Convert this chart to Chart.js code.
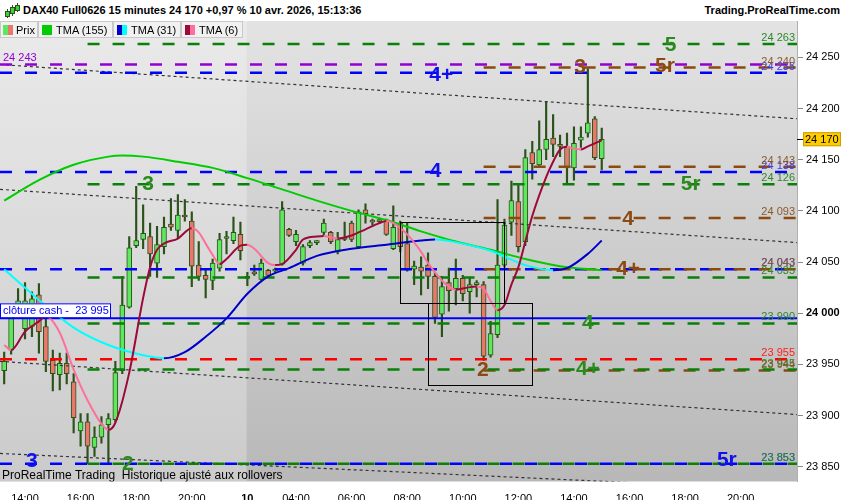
<!DOCTYPE html>
<html>
<head>
<meta charset="utf-8">
<script src="https://cdn.jsdelivr.net/npm/chart.js@4.4.1/dist/chart.umd.min.js"></script>
<style>
  html, body { margin: 0; padding: 0; background: #fff; }
  #wrap { position: relative; width: 850px; height: 500px; overflow: hidden;
          font-family: 'Liberation Sans', Arial, sans-serif; }
  #c { position: absolute; left: 0; top: 0; }
  #head { position: absolute; left: 0; top: 0; width: 850px; height: 21px; background: #fff; }
  #ttl { position: absolute; left: 23px; top: 4px; font-size: 11px; font-weight: bold; color: #000; }
  #brand { position: absolute; right: 10px; top: 4px; font-size: 11px; font-weight: bold; color: #000; }
  .ic { position: absolute; width: 3px; background: #3fcf3f; border: 1px solid #2b5219; }
  .icw { position: absolute; width: 1px; background: #2b5219; }
  .lb { position: absolute; top: 21px; height: 17px; background: #f1f1f1; border: 1px solid #c8c8c8;
        font-size: 11px; line-height: 17px; color: #000; box-sizing: border-box; }
  .lb span.t { position: absolute; top: 0; }
  .sw { position: absolute; top: 3px; width: 10px; height: 10px; }
</style>
</head>
<body>
<div id="wrap">
  <canvas id="c" width="850" height="500"></canvas>
  <div id="head">
    <span class="icw" style="left:7px;top:9px;height:9px"></span>
    <span class="ic" style="left:5px;top:11px;height:4px"></span>
    <span class="icw" style="left:12px;top:5px;height:11px"></span>
    <span class="ic" style="left:10px;top:7px;height:5px"></span>
    <span class="icw" style="left:17px;top:3px;height:9px"></span>
    <span class="ic" style="left:15px;top:5px;height:4px"></span>
    <span id="ttl">DAX40 Full0626 15 minutes 24 170 +0,97 % 10 avr. 2026, 15:13:36</span>
    <span id="brand">Trading.ProRealTime.com</span>
  </div>
  <div class="lb" style="left:0;width:38px">
    <span class="sw" style="left:2px;background:linear-gradient(90deg,#5ee85e 50%,#e8786c 50%)"></span>
    <span class="t" style="left:15px">Prix</span>
  </div>
  <div class="lb" style="left:38px;width:75px">
    <span class="sw" style="left:3px;background:#00cc00"></span>
    <span class="t" style="left:17px">TMA (155)</span>
  </div>
  <div class="lb" style="left:113px;width:68px">
    <span class="sw" style="left:3px;background:linear-gradient(90deg,#0000cc 50%,#00ffff 50%)"></span>
    <span class="t" style="left:17px">TMA (31)</span>
  </div>
  <div class="lb" style="left:181px;width:62px">
    <span class="sw" style="left:3px;background:linear-gradient(90deg,#9b0a3a 50%,#ff6f9c 50%)"></span>
    <span class="t" style="left:17px">TMA (6)</span>
  </div>
</div>

<script>
// 15 min bars, index 0 = 9 avr. 13:15, index 35 = first bar of 10 avr.
const opens = [
  23944, 23964, 24003, 23985, 23987, 24018, 23987, 23954, 23940, 23951,
  23933, 23885, 23894, 23869, 23879, 23891, 23896, 23944, 24006, 24066,
  24072, 24075, 24049, 24065, 24087, 24081, 24096, 24090, 24047, 24037,
  24032, 24044, 24073, 24071, 24077, 24035, 24039, 24033, 24042, 24041,
  24048, 24082, 24070, 24049, 24066, 24069, 24079, 24079, 24060, 24074,
  24088, 24065, 24101, 24090, 24090, 24090, 24063, 24088, 24068, 24043,
  24045, 24047, 24036, 23999, 24030, 24024, 24034, 24021, 24028, 24028,
  23959, 23979, 24047, 24089, 24109, 24070, 24157, 24145, 24160, 24171,
  24164, 24163, 24142, 24169, 24176, 24190, 24151
];
const highs = [
  23962, 24008, 24024, 24030, 24021, 24029, 23997, 23964, 23961, 23961,
  23941, 23902, 23902, 23889, 23899, 23902, 23953, 24036, 24075, 24124,
  24106, 24088, 24085, 24094, 24112, 24116, 24111, 24099, 24070, 24043,
  24053, 24078, 24080, 24094, 24089, 24040, 24047, 24053, 24043, 24044,
  24109, 24083, 24081, 24067, 24071, 24071, 24092, 24080, 24079, 24089,
  24090, 24101, 24107, 24092, 24093, 24092, 24105, 24090, 24088, 24051,
  24055, 24059, 24040, 24036, 24044, 24053, 24037, 24034, 24032, 24031,
  23992, 24111, 24092, 24129, 24126, 24160, 24168, 24188, 24207, 24194,
  24174, 24176, 24182, 24182, 24239, 24192, 24181
];
const lows = [
  23931, 23960, 23998, 23975, 23977, 23961, 23943, 23924, 23925, 23931,
  23883, 23870, 23853, 23860, 23873, 23853, 23894, 23941, 24005, 24064,
  24063, 24036, 24035, 24058, 24081, 24073, 24090, 24026, 24032, 24015,
  24023, 24041, 24058, 24068, 24052, 24027, 24037, 24032, 24036, 24040,
  24047, 24075, 24066, 24047, 24064, 24067, 24076, 24068, 24058, 24071,
  24070, 24063, 24088, 24086, 24088, 24076, 24062, 24060, 24041, 24028,
  24018, 24024, 23990, 23977, 24002, 24008, 24012, 24000, 24016, 23954,
  23957, 23976, 24045, 24076, 24060, 24066, 24131, 24143, 24150, 24153,
  24153, 24127, 24130, 24162, 24172, 24150, 24140
];
const closes = [
  23953, 24003, 24012, 24012, 24014, 23982, 23953, 23941, 23951, 23941,
  23898, 23894, 23870, 23879, 23891, 23897, 23942, 24008, 24064, 24071,
  24078, 24058, 24067, 24084, 24084, 24096, 24094, 24046, 24036, 24033,
  24049, 24072, 24075, 24079, 24061, 24034, 24038.5, 24049, 24037, 24042,
  24101, 24076, 24077, 24065, 24069, 24069.5, 24088, 24070, 24072, 24072,
  24072, 24099, 24097, 24089, 24089.5, 24077, 24084, 24065, 24042, 24046,
  24041, 24036, 23996, 24026, 24022, 24034, 24019, 24028, 24030, 23958,
  23980, 24047, 24086, 24110, 24065, 24152, 24146, 24160, 24170, 24165,
  24163, 24142, 24166, 24172, 24186, 24152, 24170
];

// moving averages (bar index, value)
const tmaSlowIdx = [0, 5, 10, 15, 17, 20, 25, 30, 35, 40, 45, 50, 55, 60, 65, 70, 75, 80, 86];
const tmaSlowVal = [24110, 24130, 24145, 24153, 24154, 24153, 24148, 24142, 24132, 24121,
                    24110, 24100, 24091, 24080, 24070, 24062, 24053, 24046, 24042];
const tmaMidIdx = [0, 5, 10, 15, 20, 23, 26, 29, 32, 35, 38, 41, 45, 50, 55, 60, 62, 66, 70, 75, 79, 81, 84, 86];
const tmaMidVal = [24043, 24013, 23986, 23969, 23959, 23956, 23962, 23977, 23995, 24019, 24036, 24044,
                   24056, 24063, 24067, 24071, 24072, 24068, 24061, 24047, 24042, 24044, 24058, 24071];
const tmaFastIdx = [0, 1, 3, 5, 6, 8, 10, 12, 14, 15, 16, 18, 20, 21, 22, 23, 25, 27, 28, 29,
                    30, 31, 32, 34, 35, 36, 38, 39, 40, 42, 43, 45, 46, 47, 48, 50, 52, 54, 55, 56,
                    58, 60, 61, 63, 64, 65, 67, 68, 69, 70, 71, 72, 73, 74, 75, 76, 78, 79, 80, 81,
                    82, 83, 84, 85, 86];
const tmaFastVal = [23969, 23964, 23982, 23992, 23997, 23981, 23945, 23915, 23892, 23886,
                    23893, 23942, 24015, 24045, 24062, 24068, 24073, 24083, 24079, 24068,
                    24057, 24048, 24053, 24066, 24067, 24063, 24049, 24047, 24048, 24062,
                    24072, 24075, 24075.5, 24074, 24073, 24076, 24082, 24088, 24090, 24088,
                    24077, 24060, 24049, 24032, 24026, 24023, 24025.5, 24026, 24024, 24012,
                    24003, 24008, 24028, 24045, 24070, 24095, 24133, 24148, 24160, 24162.6,
                    24161, 24160, 24163, 24166, 24169];

// horizontal levels
const purpleLevels = [24243];
const blueLevels = [24235, 24138, 24043, 23853];
const redLevels = [23955];
const greenLevels = [24263, 24126, 24035, 23990, 23945, 23853];
const brownLevels = [24240, 24143, 24093, 24043, 23944];
const cashClose = 23995;
const greenStart = 12;
const brownStart = 69;

// level tags: text, bar index, price
const tagText = ['5', '5r', '3', '4+', '4', '3', '5r', '4', '4+', '4', '4+', '2', '3', '2', '5r'];
const tagGroup = ['g', 'b', 'b', 'u', 'u', 'g', 'g', 'b', 'b', 'g', 'g', 'b', 'u', 'g', 'u'];
const tagIdx = [95.9, 95.1, 82.9, 62.9, 62.1, 20.7, 98.8, 89.8, 89.8, 84, 84, 68.9, 4, 17.8, 104];
const tagVal = [24263, 24242, 24241, 24234, 24140, 24127, 24127, 24093, 24044, 23991, 23946, 23945, 23856, 23853, 23857];

// channel lines: value at left edge / right edge
const channelLeft = [24243, 24121, 23953, 23863];
const channelRight = [24190, 24069, 23901, 23827];

// rectangles: first bar, last bar, top, bottom
const boxFrom = [57, 61];
const boxTo = [72, 76];
const boxTop = [24089, 24010];
const boxBottom = [24010, 23930];

const xTicks = [3, 11, 19, 27, 35, 42, 50, 58, 66, 74, 82, 90, 98, 106];
const xLabels = ['14:00', '16:00', '18:00', '20:00', '10', '04:00', '06:00', '08:00',
                 '10:00', '12:00', '14:00', '16:00', '18:00', '20:00'];
const yTicks = [23850, 23900, 23950, 24000, 24050, 24100, 24150, 24200, 24250];
const daySplit = 34.9;

const xMin = -0.6;
const xMax = 114.1;
const yMin = 23835.6;
const yMax = 24285.5;

const FONT = "'Liberation Sans', Arial, sans-serif";
const up = '#5ee85e';
const down = '#e8786c';
const edge = '#2b5219';
const col = {
    g: '#0a800a', b: '#8b4a10', u: '#0000ff', r: '#ff0000', p: '#9400d3',
};
const tagCol = { g: '#2a8a1e', b: '#8b4a12', u: '#1010ee' };
const valCol = { g: '#2a8a2a', b: '#8b5a2b', u: '#3a3aff', r: '#ff2020' };

function fmt(v) {
    const s = String(Math.round(v));
    return s.slice(0, -3) + ' ' + s.slice(-3);
}

const bars = opens.map((_, i) => i);

function level(v, from, color, dash, width) {
    return {
        type: 'line',
        data: [{ x: from, y: v }, { x: xMax, y: v }],
        borderColor: color,
        borderDash: dash,
        borderWidth: width,
        pointRadius: 0,
        order: 2,
    };
}

function tma(xs, ys, rising, falling, order) {
    return {
        type: 'line',
        data: xs.map((x, k) => ({ x, y: ys[k] })),
        borderWidth: 2,
        pointRadius: 0,
        cubicInterpolationMode: 'monotone',
        borderColor: rising,
        segment: {
            borderColor: (c) => (c.p1.parsed.y >= c.p0.parsed.y ? rising : falling),
        },
        order,
    };
}

const datasets = [];
// moving averages on top
datasets.push(tma(tmaFastIdx, tmaFastVal, '#9b0a3a', '#ff6f9c', 0));
datasets.push(tma(tmaMidIdx, tmaMidVal, '#0000cc', '#00ffff', 0));
datasets.push(tma(tmaSlowIdx, tmaSlowVal, '#00cc00', '#00cc00', 0));

const dash = [12, 13];
greenLevels.forEach((v) => datasets.push(level(v, greenStart, col.g, dash, 2.5)));
purpleLevels.forEach((v) => datasets.push(level(v, xMin, col.p, dash, 2.5)));
brownLevels.forEach((v) => datasets.push(level(v, brownStart, col.b, dash, 2.5)));
blueLevels.forEach((v) => datasets.push(level(v, xMin, col.u, dash, 2.5)));
redLevels.forEach((v) => datasets.push(level(v, xMin, col.r, dash, 2.5)));
datasets.push(level(cashClose, xMin, '#0000ff', [], 2));

channelLeft.forEach((v, k) => {
    datasets.push({
        type: 'line',
        data: [{ x: xMin, y: v }, { x: xMax, y: channelRight[k] }],
        borderColor: '#333',
        borderDash: [3, 3],
        borderWidth: 1.2,
        pointRadius: 0,
        order: 3,
    });
});

// candles
datasets.push({
    type: 'bar',
    data: bars.map((i) => ({ x: i, y: [opens[i], closes[i]] })),
    backgroundColor: bars.map((i) => (closes[i] >= opens[i] ? up : down)),
    borderColor: edge,
    borderWidth: 1,
    borderSkipped: false,
    barThickness: 5,
    minBarLength: 2,
    grouped: false,
    order: 4,
});
datasets.push({
    type: 'bar',
    data: bars.map((i) => ({ x: i, y: [lows[i], highs[i]] })),
    backgroundColor: edge,
    borderWidth: 0,
    barThickness: 1.5,
    grouped: false,
    order: 5,
});

const decor = {
    id: 'decor',
    beforeDraw(chart) {
        const { ctx, chartArea: a, scales: { x } } = chart;
        ctx.save();
        const g = ctx.createLinearGradient(0, a.top, 0, a.bottom);
        g.addColorStop(0, '#e3e3e3');
        g.addColorStop(1, '#b8b8b8');
        ctx.fillStyle = g;
        ctx.fillRect(a.left, a.top, a.width, a.height);
        ctx.fillStyle = 'rgba(255,255,255,0.27)';
        ctx.fillRect(a.left, a.top, x.getPixelForValue(daySplit) - a.left, a.height);
        ctx.restore();
    },
    afterDatasetsDraw(chart) {
        const { ctx, chartArea: a, scales: { x, y } } = chart;
        ctx.save();
        ctx.beginPath();
        ctx.rect(a.left, a.top, a.width, a.height);
        ctx.clip();

        // rectangles
        ctx.strokeStyle = '#000';
        ctx.lineWidth = 1;
        boxFrom.forEach((b, k) => {
            const x0 = Math.round(x.getPixelForValue(b)) + 0.5;
            const x1 = Math.round(x.getPixelForValue(boxTo[k])) + 0.5;
            const y0 = Math.round(y.getPixelForValue(boxTop[k])) + 0.5;
            const y1 = Math.round(y.getPixelForValue(boxBottom[k])) + 0.5;
            ctx.strokeRect(x0, y0, x1 - x0, y1 - y0);
        });

        // values at the right end of each level
        ctx.font = '11px ' + FONT;
        ctx.textAlign = 'right';
        ctx.textBaseline = 'alphabetic';
        const right = a.right - 2;
        const putVal = (v, c) => {
            ctx.fillStyle = c;
            ctx.fillText(fmt(v), right, y.getPixelForValue(v) - 3);
        };
        blueLevels.forEach((v) => putVal(v, valCol.u));
        greenLevels.forEach((v) => putVal(v, valCol.g));
        redLevels.forEach((v) => putVal(v, valCol.r));
        brownLevels.forEach((v) => putVal(v, valCol.b));

        // left labels
        ctx.textAlign = 'left';
        ctx.fillStyle = col.p;
        purpleLevels.forEach((v) => ctx.fillText(fmt(v), a.left + 3, y.getPixelForValue(v) - 4));

        const cy = y.getPixelForValue(cashClose);
        ctx.fillStyle = '#fff';
        ctx.fillRect(a.left, cy - 15, 111, 14);
        ctx.strokeStyle = '#0000ff';
        ctx.strokeRect(a.left + 0.5, cy - 14.5, 110, 14);
        ctx.fillStyle = '#0000ff';
        ctx.font = '11px ' + FONT;
        ctx.fillText('clôture cash -  ' + fmt(cashClose), a.left + 3, cy - 4);

        // tags
        ctx.font = 'bold 21px ' + FONT;
        ctx.textAlign = 'center';
        ctx.textBaseline = 'middle';
        tagText.forEach((t, k) => {
            ctx.fillStyle = tagCol[tagGroup[k]];
            ctx.fillText(t, x.getPixelForValue(tagIdx[k]), y.getPixelForValue(tagVal[k]) + 1);
        });

        ctx.font = '12px ' + FONT;
        ctx.textAlign = 'left';
        ctx.textBaseline = 'middle';
        ctx.fillStyle = '#000';
        ctx.fillText('ProRealTime Trading  Historique ajusté aux rollovers', a.left + 2, a.bottom - 6);
        ctx.restore();
    },
    afterDraw(chart) {
        const { ctx, chartArea: a, scales: { y } } = chart;
        const last = closes[closes.length - 1];
        const py = y.getPixelForValue(last);
        ctx.save();
        ctx.strokeStyle = '#000';
        ctx.lineWidth = 1;
        ctx.beginPath();
        ctx.moveTo(a.right, Math.round(py) + 0.5);
        ctx.lineTo(a.right + 6, Math.round(py) + 0.5);
        ctx.stroke();
        ctx.fillStyle = '#ffcc00';
        ctx.fillRect(a.right + 6, py - 7, 38, 14);
        ctx.strokeStyle = '#c9a000';
        ctx.strokeRect(a.right + 6.5, py - 6.5, 37, 13);
        ctx.fillStyle = '#000';
        ctx.font = '11px ' + FONT;
        ctx.textBaseline = 'middle';
        ctx.fillText(fmt(last), a.right + 8, py + 0.5);
        ctx.restore();
    },
};

new Chart(document.getElementById('c'), {
    type: 'bar',
    data: { datasets },
    options: {
        responsive: false,
        animation: false,
        layout: { padding: { top: 21, left: 0, right: 0, bottom: 0 } },
        plugins: { legend: { display: false }, tooltip: { enabled: false } },
        scales: {
            x: {
                type: 'linear',
                min: xMin,
                max: xMax,
                offset: false,
                afterFit(s) { s.height = 18.5; },
                afterBuildTicks(s) { s.ticks = xTicks.map((v) => ({ value: v })); },
                grid: { display: false },
                border: { display: false },
                ticks: {
                    autoSkip: false,
                    maxRotation: 0,
                    padding: 3,
                    color: '#000',
                    font: (c) => ({
                        family: FONT,
                        size: 11,
                        weight: c.tick && c.tick.value === 35 ? 'bold' : 'normal',
                    }),
                    callback: (v) => xLabels[xTicks.indexOf(v)],
                },
            },
            y: {
                type: 'linear',
                position: 'right',
                min: yMin,
                max: yMax,
                afterFit(s) { s.width = 53; },
                afterBuildTicks(s) { s.ticks = yTicks.map((v) => ({ value: v })); },
                grid: { drawOnChartArea: false, drawTicks: true, tickLength: 6, color: '#888' },
                border: { display: true, color: '#b0b0b0' },
                ticks: {
                    padding: 3,
                    color: '#000',
                    font: (c) => ({
                        family: FONT,
                        size: 11,
                        weight: c.tick && c.tick.value === 24000 ? 'bold' : 'normal',
                    }),
                    callback: (v) => fmt(v),
                },
            },
        },
    },
    plugins: [decor],
});
</script>
</body>
</html>
